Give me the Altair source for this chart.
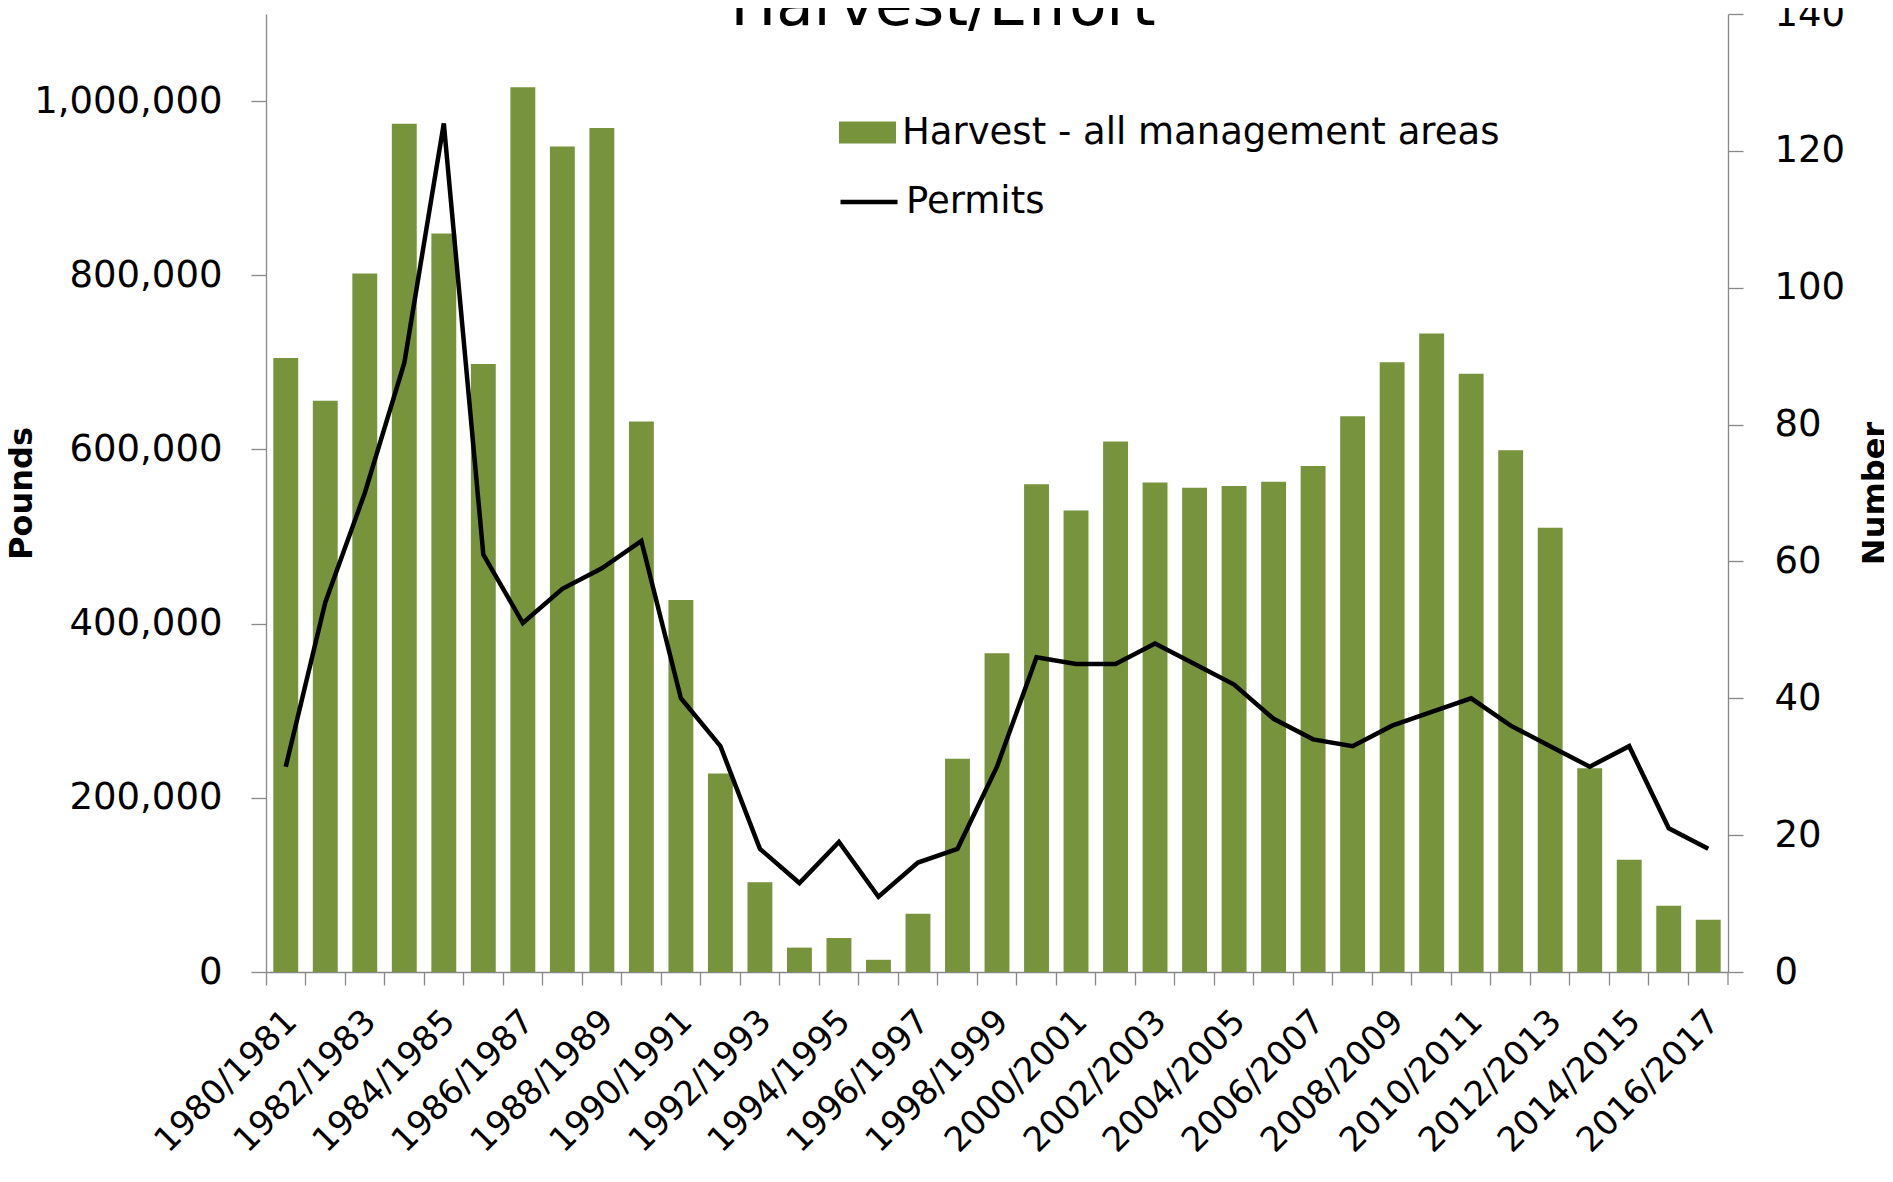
import altair as alt
import pandas as pd

seasons = ["1980/1981", "1981/1982", "1982/1983", "1983/1984", "1984/1985", "1985/1986",
           "1986/1987", "1987/1988", "1988/1989", "1989/1990", "1990/1991", "1991/1992",
           "1992/1993", "1993/1994", "1994/1995", "1995/1996", "1996/1997", "1997/1998",
           "1998/1999", "1999/2000", "2000/2001", "2001/2002", "2002/2003", "2003/2004",
           "2004/2005", "2005/2006", "2006/2007", "2007/2008", "2008/2009", "2009/2010",
           "2010/2011", "2011/2012", "2012/2013", "2013/2014", "2014/2015", "2015/2016",
           "2016/2017"]

harvest = [705000, 656000, 802000, 974000, 848000, 698000, 1016000, 948000, 969000, 632000,
           427000, 228000, 103000, 28000, 39000, 14000, 67000, 245000, 366000, 560000,
           530000, 609000, 562000, 556000, 558000, 563000, 581000, 638000, 700000, 733000,
           687000, 599000, 510000, 234000, 129000, 76000, 60000]

permits = [30, 54, 70, 89, 124, 61, 51, 56, 59, 63,
           40, 33, 18, 13, 19, 11, 16, 18, 30, 46,
           45, 45, 48, 45, 42, 37, 34, 33, 36, 38,
           40, 36, 33, 30, 33, 21, 18]

harvest_label = "Harvest - all management areas"
permits_label = "Permits"
chart_title = "Harvest/Effort"
left_ticks = [0, 200000, 400000, 600000, 800000, 1000000]
right_ticks = [0, 20, 40, 60, 80, 100, 120, 140]

df = pd.DataFrame({"season": seasons, "harvest": harvest, "permits": permits})
df["hlabel"] = harvest_label
df["plabel"] = permits_label

FONT = "DejaVu Sans"
W, H = 1462, 958
GREEN = "#77933C"
GRAY = "#888888"

xenc = alt.X(
    "season:N", sort=seasons,
    scale=alt.Scale(paddingInner=0, paddingOuter=0),
    axis=alt.Axis(
        title=None, bandPosition=0, tickSize=13, labelAngle=-45,
        labelAlign="right", labelBaseline="middle", labelPadding=31,
        labelOffset=6, labelOverlap=False, labelLimit=0, labelFontSize=34,
        labelExpr="toNumber(substring(datum.label,0,4)) % 2 == 0 ? datum.label : ''",
    ),
)

bars = alt.Chart(df).mark_bar(width=alt.RelativeBandSize(0.63)).encode(
    x=xenc,
    y=alt.Y("harvest:Q", scale=alt.Scale(domain=[0, 1100000], nice=False),
            axis=alt.Axis(title="Pounds", orient="left", values=left_ticks, format=",d",
                          tickSize=15, labelPadding=29, titleAngle=270,
                          titleX=-235, titleBaseline="alphabetic")),
    color=alt.Color("hlabel:N", scale=alt.Scale(domain=[harvest_label], range=[GREEN]),
                    legend=alt.Legend(orient="none", legendX=573, legendY=90, title=None,
                                      symbolType="M-1,-0.386H1V0.386H-1Z", symbolSize=3249,
                                      symbolStrokeWidth=0, labelOffset=6, padding=0,
                                      labelLimit=0)),
)

line = alt.Chart(df).mark_line(strokeWidth=4.5).encode(
    x=xenc,
    y=alt.Y("permits:Q", scale=alt.Scale(domain=[0, 140], nice=False),
            axis=alt.Axis(title="Number", orient="right", values=right_ticks,
                          tickSize=15, labelPadding=31, titleAngle=270,
                          titleX=156, titleBaseline="alphabetic")),
    stroke=alt.Stroke("plabel:N", scale=alt.Scale(domain=[permits_label], range=["black"]),
                      legend=alt.Legend(orient="none", legendX=572, legendY=157, title=None,
                                        symbolType="stroke", symbolSize=3249,
                                        symbolStrokeWidth=4.5, labelOffset=6, padding=0,
                                        labelLimit=0)),
)

title_text = alt.Chart(pd.DataFrame({"t": [chart_title]})).mark_text(
    font=FONT, fontSize=61, baseline="alphabetic", align="center", color="black"
).encode(text="t:N", x=alt.value(677), y=alt.value(11))

end_tick = alt.Chart(pd.DataFrame({"k": [0]})).mark_rule(color=GRAY, strokeWidth=1.3).encode(
    x=alt.value(W), y=alt.value(H), y2=alt.value(H + 13)
)

chart = alt.layer(bars, line, title_text, end_tick).resolve_scale(
    y="independent"
).properties(
    width=W, height=H,
    autosize=alt.AutoSizeParams(type="none"),
    padding={"left": 258, "top": 6, "right": 156, "bottom": 196},
).configure_view(stroke=None).configure_axis(
    grid=False, domainColor=GRAY, tickColor=GRAY, domainWidth=1.3, tickWidth=1.3,
    labelFont=FONT, labelFontSize=37, labelColor="black", labelLimit=0,
    titleFont=FONT, titleFontSize=32, titleFontWeight="bold", titleColor="black",
).configure_legend(
    labelFont=FONT, labelFontSize=37, labelColor="black", labelLimit=0,
)

chart.save("out.html", embed_options={"renderer": "svg", "actions": False})
